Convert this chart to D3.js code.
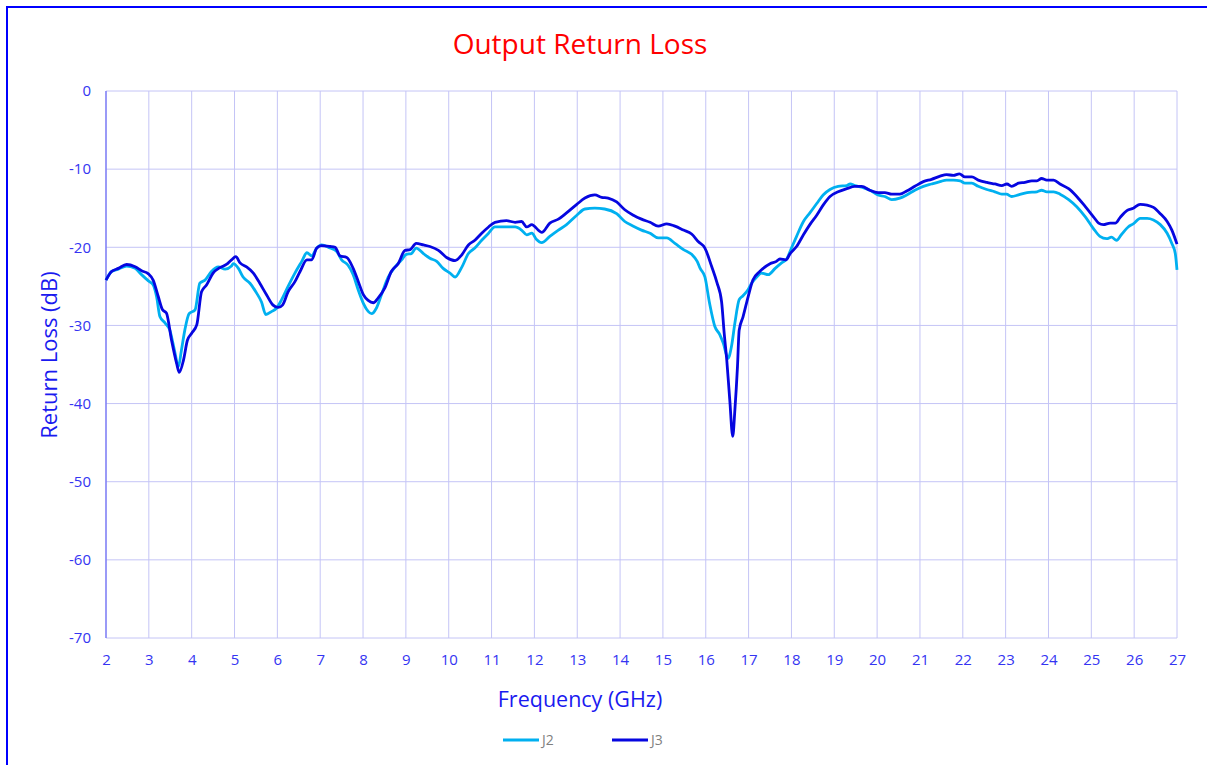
<!DOCTYPE html>
<html>
<head>
<meta charset="utf-8">
<script src="https://cdn.jsdelivr.net/npm/d3@7"></script>
<style>
  body { margin: 0; background: #fff; }
  svg { display: block; font-family: "Open Sans", "Liberation Sans", sans-serif; }
</style>
</head>
<body>
<svg id="chart" width="1207" height="765"></svg>
<script>
// frequency (GHz) / return loss (dB)
var j2Freq = [2.00,2.13,2.29,2.48,2.68,2.83,2.99,3.10,3.18,3.26,3.38,3.49,3.61,3.69,3.76,3.84,3.94,4.08,4.19,4.31,4.46,4.62,4.78,4.93,4.97,5.09,5.20,5.36,5.52,5.63,5.73,5.87,5.98,6.10,6.25,6.41,6.57,6.69,6.80,6.92,7.03,7.23,7.38,7.50,7.65,7.77,7.89,8.01,8.12,8.20,8.31,8.44,8.59,8.75,8.90,9.01,9.13,9.24,9.41,9.56,9.72,9.87,10.03,10.15,10.30,10.46,10.61,10.77,10.93,11.08,11.35,11.55,11.70,11.82,11.94,12.05,12.17,12.36,12.56,12.75,12.99,13.18,13.41,13.64,13.92,14.11,14.31,14.50,14.70,14.89,15.09,15.28,15.48,15.67,15.80,15.87,15.98,16.09,16.21,16.33,16.41,16.52,16.60,16.68,16.78,16.87,16.99,17.07,17.19,17.30,17.46,17.62,17.77,17.89,18.00,18.12,18.28,18.43,18.59,18.74,18.90,19.09,19.29,19.37,19.48,19.64,19.83,20.02,20.18,20.34,20.53,20.69,20.88,21.08,21.27,21.47,21.62,21.78,21.94,22.05,22.21,22.36,22.56,22.75,22.91,23.02,23.14,23.30,23.50,23.73,23.84,23.96,24.12,24.27,24.47,24.66,24.86,25.05,25.20,25.36,25.47,25.59,25.70,25.86,25.98,26.14,26.30,26.45,26.61,26.77,26.88,26.96,27.00];
var j2Loss = [-24.2,-23.1,-22.8,-22.4,-22.7,-23.5,-24.3,-24.8,-26.3,-28.9,-29.7,-30.6,-33.5,-35.3,-33.2,-30.6,-28.5,-28.0,-24.6,-24.2,-23.1,-22.5,-22.8,-22.4,-22.1,-22.7,-23.8,-24.6,-25.9,-27.0,-28.6,-28.2,-27.8,-26.7,-25.0,-23.3,-21.8,-20.7,-21.1,-20.1,-19.7,-20.1,-20.5,-21.6,-22.3,-23.5,-25.5,-27.2,-28.2,-28.5,-27.8,-25.9,-23.8,-22.5,-21.6,-20.9,-20.8,-20.1,-20.8,-21.4,-21.8,-22.7,-23.3,-23.8,-22.6,-20.8,-20.1,-19.1,-18.2,-17.4,-17.4,-17.4,-17.8,-18.4,-18.2,-19.0,-19.4,-18.6,-17.8,-17.1,-15.9,-15.1,-15.0,-15.1,-15.7,-16.7,-17.3,-17.8,-18.2,-18.8,-18.8,-19.5,-20.3,-20.9,-21.8,-22.7,-23.8,-27.2,-30.1,-31.2,-32.3,-34.2,-32.7,-29.7,-26.7,-26.2,-25.4,-24.6,-23.8,-23.3,-23.5,-22.7,-22.0,-21.5,-20.1,-18.6,-16.7,-15.6,-14.4,-13.3,-12.6,-12.2,-12.1,-11.9,-12.1,-12.3,-12.7,-13.3,-13.5,-13.9,-13.7,-13.3,-12.7,-12.2,-11.9,-11.6,-11.4,-11.4,-11.5,-11.8,-11.8,-12.2,-12.6,-12.9,-13.2,-13.2,-13.5,-13.3,-13.0,-12.9,-12.7,-12.9,-12.9,-13.2,-13.9,-14.8,-16.1,-17.6,-18.6,-18.9,-18.7,-19.1,-18.4,-17.4,-17.0,-16.3,-16.3,-16.5,-17.1,-18.2,-19.5,-20.8,-22.9];

var j3Freq = [2.00,2.13,2.29,2.48,2.68,2.83,2.99,3.10,3.22,3.32,3.41,3.53,3.65,3.71,3.81,3.90,4.00,4.12,4.23,4.35,4.50,4.66,4.81,4.93,5.03,5.13,5.28,5.44,5.59,5.75,5.90,6.02,6.12,6.25,6.41,6.53,6.69,6.80,6.92,7.03,7.23,7.35,7.46,7.62,7.77,7.89,8.01,8.12,8.24,8.35,8.51,8.66,8.82,8.98,9.10,9.24,9.41,9.56,9.76,9.95,10.15,10.30,10.46,10.61,10.77,10.93,11.08,11.35,11.55,11.70,11.82,11.94,12.09,12.17,12.36,12.56,12.75,12.99,13.18,13.41,13.57,13.72,13.92,14.11,14.31,14.50,14.70,14.89,15.09,15.28,15.48,15.67,15.83,15.98,16.14,16.26,16.37,16.43,16.49,16.56,16.63,16.68,16.74,16.78,16.87,16.99,17.10,17.26,17.34,17.50,17.65,17.73,17.87,17.97,18.12,18.28,18.43,18.59,18.74,18.90,19.09,19.29,19.48,19.64,19.83,20.02,20.18,20.34,20.53,20.69,20.88,21.08,21.27,21.47,21.62,21.78,21.92,22.05,22.21,22.36,22.56,22.75,22.91,23.03,23.14,23.30,23.45,23.61,23.73,23.84,23.96,24.12,24.27,24.47,24.66,24.86,25.05,25.17,25.28,25.44,25.56,25.67,25.83,25.98,26.14,26.30,26.45,26.61,26.77,26.88,27.00];
var j3Loss = [-24.2,-23.1,-22.7,-22.2,-22.5,-23.0,-23.4,-24.2,-26.3,-28.0,-28.4,-31.9,-34.9,-36.0,-34.4,-31.9,-31.0,-29.9,-25.7,-24.8,-23.3,-22.6,-22.2,-21.6,-21.2,-22.0,-22.5,-23.3,-24.6,-26.1,-27.4,-27.7,-27.4,-25.7,-24.4,-23.1,-21.6,-21.6,-20.1,-19.8,-19.9,-20.0,-21.1,-21.3,-22.7,-24.4,-26.1,-26.8,-27.1,-26.5,-25.2,-23.1,-22.1,-20.4,-20.3,-19.5,-19.7,-19.9,-20.4,-21.3,-21.7,-21.0,-19.7,-19.1,-18.2,-17.4,-16.8,-16.6,-16.8,-16.7,-17.4,-17.1,-17.8,-18.1,-16.9,-16.4,-15.6,-14.5,-13.7,-13.3,-13.6,-13.7,-14.2,-15.2,-15.9,-16.4,-16.8,-17.3,-17.0,-17.3,-17.8,-18.3,-19.3,-20.1,-22.5,-24.5,-27.0,-31.0,-34.4,-39.5,-44.2,-40.8,-35.3,-30.6,-28.9,-26.3,-24.2,-23.1,-22.7,-22.1,-21.8,-21.5,-21.6,-20.8,-19.9,-18.4,-17.1,-15.9,-14.6,-13.5,-12.9,-12.5,-12.2,-12.2,-12.7,-13.0,-13.0,-13.2,-13.2,-12.8,-12.2,-11.6,-11.3,-10.9,-10.7,-10.8,-10.6,-11.0,-11.0,-11.4,-11.7,-11.9,-12.1,-11.9,-12.2,-11.8,-11.7,-11.5,-11.5,-11.2,-11.4,-11.4,-11.9,-12.5,-13.5,-14.8,-16.1,-16.9,-17.1,-16.9,-16.9,-16.2,-15.3,-15.0,-14.5,-14.6,-14.9,-15.7,-16.7,-17.8,-19.6];

var xTicks = d3.range(2, 28, 1);
var yTicks = [0, -10, -20, -30, -40, -50, -60, -70];
var seriesNames = ['J2', 'J3'];
var seriesColors = ['#00b0f0', '#0606e0'];

var svg = d3.select('#chart');
var margin = {top: 91, left: 106};
var width = 1177 - 106;
var height = 638 - 91;

// outer frame (runs off the right/bottom edge like the screenshot)
svg.append('rect')
    .attr('x', 7).attr('y', 7)
    .attr('width', 1230).attr('height', 800)
    .attr('fill', 'none')
    .attr('stroke', '#0000ff')
    .attr('stroke-width', 2);

var g = svg.append('g').attr('transform', `translate(${margin.left},${margin.top})`);

var x = d3.scaleLinear().domain([2, 27]).range([0, width]);
var y = d3.scaleLinear().domain([-70, 0]).range([height, 0]);

// grid
g.append('g')
    .selectAll('line')
    .data(xTicks)
    .enter().append('line')
    .attr('x1', d => x(d)).attr('x2', d => x(d))
    .attr('y1', 0).attr('y2', height)
    .attr('stroke', '#c4c4f6').attr('stroke-width', 1);

g.append('g')
    .selectAll('line')
    .data(yTicks)
    .enter().append('line')
    .attr('x1', 0).attr('x2', width)
    .attr('y1', d => y(d)).attr('y2', d => y(d))
    .attr('stroke', '#c4c4f6').attr('stroke-width', 1);

// left axis line
g.append('line')
    .attr('x1', 0).attr('x2', 0).attr('y1', 0).attr('y2', height)
    .attr('stroke', '#6b6bf5').attr('stroke-width', 1.2);

// tick labels (plain hyphen for negatives, like the original)
var yAxis = d3.axisLeft(y).tickValues(yTicks).tickFormat(d => String(d)).tickSize(0).tickPadding(15);
var yg = g.append('g').call(yAxis);
yg.select('.domain').remove();
yg.selectAll('text').attr('fill', '#3434f2').style('font-size', '15px')
    .style('font-family', '"Open Sans", sans-serif');

var xAxis = d3.axisBottom(x).tickValues(xTicks).tickFormat(d => String(d)).tickSize(0).tickPadding(16);
var xg = g.append('g').attr('transform', `translate(0,${height})`).call(xAxis);
xg.select('.domain').remove();
xg.selectAll('text').attr('fill', '#3434f2').style('font-size', '15px')
    .style('font-family', '"Open Sans", sans-serif');

// lines
var line = d3.line()
    .x(d => x(d[0]))
    .y(d => y(d[1]))
    .curve(d3.curveMonotoneX);

var j2 = j2Freq.map((f, i) => [f, j2Loss[i]]);
var j3 = j3Freq.map((f, i) => [f, j3Loss[i]]);

[j2, j3].forEach(function(data, i) {
    g.append('path')
        .datum(data)
        .attr('fill', 'none')
        .attr('stroke', seriesColors[i])
        .attr('stroke-width', 2.8)
        .attr('stroke-linejoin', 'round')
        .attr('d', line);
});

// titles
svg.append('text')
    .attr('x', 580).attr('y', 54)
    .attr('text-anchor', 'middle')
    .attr('fill', '#ff0000')
    .style('font-size', '28px')
    .text('Output Return Loss');

svg.append('text')
    .attr('x', 580).attr('y', 707)
    .attr('text-anchor', 'middle')
    .attr('fill', '#1a1af0')
    .style('font-size', '21.5px')
    .text('Frequency (GHz)');

svg.append('text')
    .attr('transform', 'translate(57,355) rotate(-90)')
    .attr('text-anchor', 'middle')
    .attr('fill', '#1a1af0')
    .style('font-size', '22px')
    .text('Return Loss (dB)');

// legend
var legend = svg.append('g').attr('transform', 'translate(503,740)');
seriesNames.forEach(function(name, i) {
    var lg = legend.append('g').attr('transform', `translate(${i * 109},0)`);
    lg.append('line')
        .attr('x1', 0).attr('x2', 36).attr('y1', 0).attr('y2', 0)
        .attr('stroke', seriesColors[i]).attr('stroke-width', 2.8);
    lg.append('text')
        .attr('x', 39).attr('y', 5)
        .attr('fill', '#7f7f7f')
        .style('font-size', '14px')
        .text(name);
});
</script>
</body>
</html>
